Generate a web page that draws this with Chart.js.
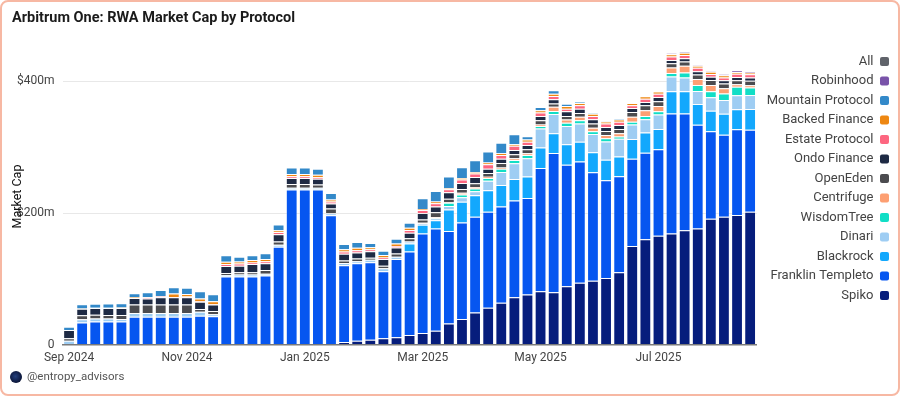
<!DOCTYPE html>
<html>
<head>
<meta charset="utf-8">
<title>Arbitrum One: RWA Market Cap by Protocol</title>
<script src="https://cdn.jsdelivr.net/npm/chart.js@4.4.1/dist/chart.umd.min.js"></script>
<style>
  html, body { margin: 0; padding: 0; background: #fff; }
  #frame {
    position: relative; width: 900px; height: 396px; box-sizing: border-box;
    border: 2px solid #f7b8a3; border-radius: 8px; overflow: hidden;
    font-family: Roboto, "Noto Sans", sans-serif;
  }
  #title { position: absolute; left: 10px; top: 7px; font-weight: bold; font-size: 14.5px; color: #1b1b1b; z-index: 2; }
  #wrap { position: absolute; left: -2px; top: -2px; width: 900px; height: 396px; }
  #logo { position: absolute; left: 8px; top: 369px; width: 12px; height: 12px; border-radius: 50%;
          background: radial-gradient(circle at 45% 45%, #24407e 0%, #0b1538 70%); z-index: 2; }
  #footer { position: absolute; left: 25px; top: 367px; font-size: 11.5px; color: #555; z-index: 2; }
</style>
</head>
<body>
<div id="frame">
  <div id="title">Arbitrum One: RWA Market Cap by Protocol</div>
  <div id="wrap"><canvas id="rwaChart"></canvas></div>
  <div id="logo"></div>
  <div id="footer">@entropy_advisors</div>
</div>
<script>
// weekly buckets
const weeks = [
  '2024-09-01','2024-09-08','2024-09-15','2024-09-22','2024-09-29',
  '2024-10-06','2024-10-13','2024-10-20','2024-10-27',
  '2024-11-03','2024-11-10','2024-11-17','2024-11-24',
  '2024-12-01','2024-12-08','2024-12-15','2024-12-22','2024-12-29',
  '2025-01-05','2025-01-12','2025-01-19','2025-01-26',
  '2025-02-02','2025-02-09','2025-02-16','2025-02-23',
  '2025-03-02','2025-03-09','2025-03-16','2025-03-23','2025-03-30',
  '2025-04-06','2025-04-13','2025-04-20','2025-04-27',
  '2025-05-04','2025-05-11','2025-05-18','2025-05-25',
  '2025-06-01','2025-06-08','2025-06-15','2025-06-22','2025-06-29',
  '2025-07-06','2025-07-13','2025-07-20','2025-07-27',
  '2025-08-03','2025-08-10','2025-08-17','2025-08-24','2025-08-31'
];

// x tick labels and the week they sit under
const monthTicks = ['Sep 2024', 'Nov 2024', 'Jan 2025', 'Mar 2025', 'May 2025', 'Jul 2025'];
const monthTickWeek = [0, 9, 18, 27, 36, 45];
const yTicks = [0, 200, 400];

// market cap in $m, stacked bottom -> top
const spiko = [0,0,0,0,0,0,0,0,0,0,0,0,0,0,0,0,0,0,0,0,1,4,6,7.5,9.5,11,14.5,17.5,21,32,39,48.6,56,63.7,72,76,81,79.7,88.5,94,97,101.4,110,150,160,165.3,168.8,173.8,176.3,191.4,194.4,197,202];
const franklin = [0,33.5,35,35,35,42.5,42.5,42.5,42.5,42.5,44,43,103.4,103.4,103.4,105,148.7,235.7,235.7,235.7,195.5,116.5,117.5,117.5,102,119,127,151.5,155.4,140.8,146.4,145.8,145.9,146.3,146.9,146.8,187.2,211.3,184.7,184.2,165,148.4,145.8,132.3,131.7,131.7,182.5,177.5,158,132.9,124.6,130.3,124.4];
const blackrock = [0,0,0,0,0,0,0,0,0,0,0,0,0,0,0,0,0,0,0,0,0,0,0,0,0,0,12,13,12.6,32.7,31.7,32.7,32.7,32.7,32.7,32.7,31.2,30.2,31.2,30.2,30.2,31.2,30.2,30.2,30.7,30.7,33.7,33.7,31.2,31.2,31.7,30.2,31.7];
const dinari = [6,5,4.5,4.5,4,5.5,5.5,5.5,5.5,5.5,6,3,2.5,3,3,2.5,3,2.5,2.5,2.5,3,3.5,3,4,4.5,3.5,3,2.5,3,5,7,6,14.6,19.6,24,27.7,29.2,29.2,27.7,27.7,27.7,27.7,26.7,22.1,20.1,22.1,22.6,21.1,20.1,20.6,21.1,21.6,21.1];
const wisdomTree = [0,0,0,0,0,0,0,0,0,0,0,0,0,0,0,0,0,0,0,0,0,0,0,0,0,0,0,0,1,5,4,4,4,5,5,5,3.5,4.5,5,5,4.5,5,3.5,4,5,5,5,7.5,9,9,10,12.6,11.6];
const centrifuge = [0,0,0,0,0,0,0,0,0,0,0,0,0,0,0,0,0,0,0,0,0,0,0,0,0,0,0,0.5,1,1,2.5,2.5,2,2,2.5,2.5,2.5,6.5,5,5,5,5,5,7.5,8.6,8,8.6,10,9,9.5,7.6,4,3.5];
const openEden = [3.5,6,6,5.5,6,13,13,13,13,13,4,5,3,3.5,3.5,6,5,6,6,5,7.5,4,4.5,3,4,5,5,5,7,5,6,5.5,5.5,6.5,6,6,6.5,5,5.5,6,6.5,6,6.5,7.5,7.5,7,6.5,6.5,7,7.5,7.5,6,6.5];
const ondo = [12.6,10,10,10.5,10.5,10,9,11,11,11,11,10,10.5,10,12.5,10,11,9,9,9,7.5,10,9,10,10,9,8.5,10,9,10,9,9.5,6.5,6.5,6.5,6.5,6.5,6.5,7,6.5,6.5,6,6,6,5,6.5,5,5,5,5,5,5,5];
const estate = [0,0,0,0,0,0,2,1.5,0.5,1,1,0.5,3,3.5,2.5,3,3.5,2.5,2.5,2,3,3.5,3.5,3,2.5,2.5,4,4.5,5,4.5,5.5,5.5,7,6,6.5,5,5,5,4,5,5,5.5,5,4,5,5,5,5,5,4,4,5,5];
const backed = [0,0.5,0.5,0.5,1,1,0.5,0.5,5,4,4,4.5,3.5,3,3.5,3.5,2.5,3.5,3.5,4,3,3.5,3.5,3,3.5,3.5,3.5,1.5,2.5,1.5,2,2,2.5,2.5,2.5,3.5,3.5,3.5,4,3.5,3.5,2.5,3.5,3.5,4,3.5,3.5,3.5,3,3.5,3.5,2.5,2.5];
const mountain = [5,6.5,6,6.5,6.5,6,7,9,9.5,9.5,11,10.5,10,7,7.5,9,9,10,10,9,10,8,9,6.5,6.5,7.5,7.5,16.6,16,18,16.5,18,16.6,16,15,5,5,5,3.5,1.5,1,0.5,1.5,0,0,0,0.5,0.5,0,0,0,0,0];
const robinhood = [0,0,0,0,0,0,0,0,0,0,0,0,0,0,0,0,0,0,0,0,0,0,0,0,0,0,0,0,0,0,0,0,0,0,0,0,0,0,0,0,0,0,0,0,0,0,1,1,1,1,1.5,2.5,1.5];
const allOther = [0,0,0,0,0,0,0,0,0,0,0,0,0,0,0,0,0,0,0,0,0,0,0,0,0,0,0,0,0,0,0,0,0,0,0,0,0,0,0,0,0,0,0,0,0,0,0,0,0,0,0,0,0];

const series = [
  { label: 'Spiko', data: spiko, color: '#061d7c' },
  { label: 'Franklin Templeto', data: franklin, color: '#0656f0' },
  { label: 'Blackrock', data: blackrock, color: '#13a8fd' },
  { label: 'Dinari', data: dinari, color: '#9ecdf3' },
  { label: 'WisdomTree', data: wisdomTree, color: '#11dec6' },
  { label: 'Centrifuge', data: centrifuge, color: '#fd9f72' },
  { label: 'OpenEden', data: openEden, color: '#4b4b4f' },
  { label: 'Ondo Finance', data: ondo, color: '#1e2a44' },
  { label: 'Estate Protocol', data: estate, color: '#fd6680' },
  { label: 'Backed Finance', data: backed, color: '#ee8712' },
  { label: 'Mountain Protocol', data: mountain, color: '#3389c9' },
  { label: 'Robinhood', data: robinhood, color: '#7953a9' },
  { label: 'All', data: allOther, color: '#60636a' }
];

// y axis title sits over the tick labels, like the original
const yTitle = {
  id: 'yTitle',
  afterDraw(chart) {
    const { ctx, chartArea } = chart;
    ctx.save();
    ctx.translate(17.5, (chartArea.top + chartArea.bottom) / 2);
    ctx.rotate(-Math.PI / 2);
    ctx.font = '12.5px Roboto';
    ctx.fillStyle = '#111';
    ctx.textAlign = 'center';
    ctx.textBaseline = 'middle';
    ctx.fillText('Market Cap', 0, 0);
    ctx.restore();
  }
};

const ctx = document.getElementById('rwaChart').getContext('2d');

const rwaChart = new Chart(ctx, {
  type: 'bar',
  data: {
    labels: weeks,
    datasets: series.map(s => ({
      label: s.label,
      data: s.data,
      backgroundColor: s.color,
      borderColor: 'rgba(255,255,255,0.3)',
      borderWidth: 1,
      categoryPercentage: 0.9,
      barPercentage: 1
    }))
  },
  options: {
    responsive: true,
    maintainAspectRatio: false,
    animation: false,
    layout: { padding: { left: 9, right: 4.5, top: 48.5, bottom: 25 } },
    plugins: {
      legend: {
        position: 'right',
        align: 'start',
        reverse: true,
        rtl: true,
        labels: {
          boxWidth: 9,
          boxHeight: 9,
          useBorderRadius: true,
          borderRadius: 2,
          padding: 6.5,
          color: '#444',
          font: { family: 'Roboto', size: 13 },
          generateLabels: chart => Chart.defaults.plugins.legend.labels.generateLabels(chart)
            .map(item => Object.assign(item, { lineWidth: 0, strokeStyle: 'rgba(0,0,0,0)' }))
        }
      },
      tooltip: { enabled: false }
    },
    scales: {
      x: {
        stacked: true,
        grid: { display: false, drawTicks: false },
        border: { display: true, color: '#7a7a7a', width: 1.5 },
        ticks: {
          autoSkip: false,
          maxRotation: 0,
          padding: 6,
          color: '#444',
          font: { family: 'Roboto', size: 12 },
          callback: (value, index) => {
            const k = monthTickWeek.indexOf(index);
            return k >= 0 ? monthTicks[k] : '';
          }
        }
      },
      y: {
        stacked: true,
        min: 0,
        max: 450,
        afterBuildTicks: axis => { axis.ticks = yTicks.map(v => ({ value: v })); },
        grid: { color: '#e8e8e8', drawTicks: false },
        border: { display: false },
        ticks: {
          padding: 8,
          color: '#444',
          font: { family: 'Roboto', size: 12 },
          callback: v => v === 0 ? '0' : '$' + v + 'm'
        }
      }
    }
  },
  plugins: [yTitle]
});
</script>
</body>
</html>
